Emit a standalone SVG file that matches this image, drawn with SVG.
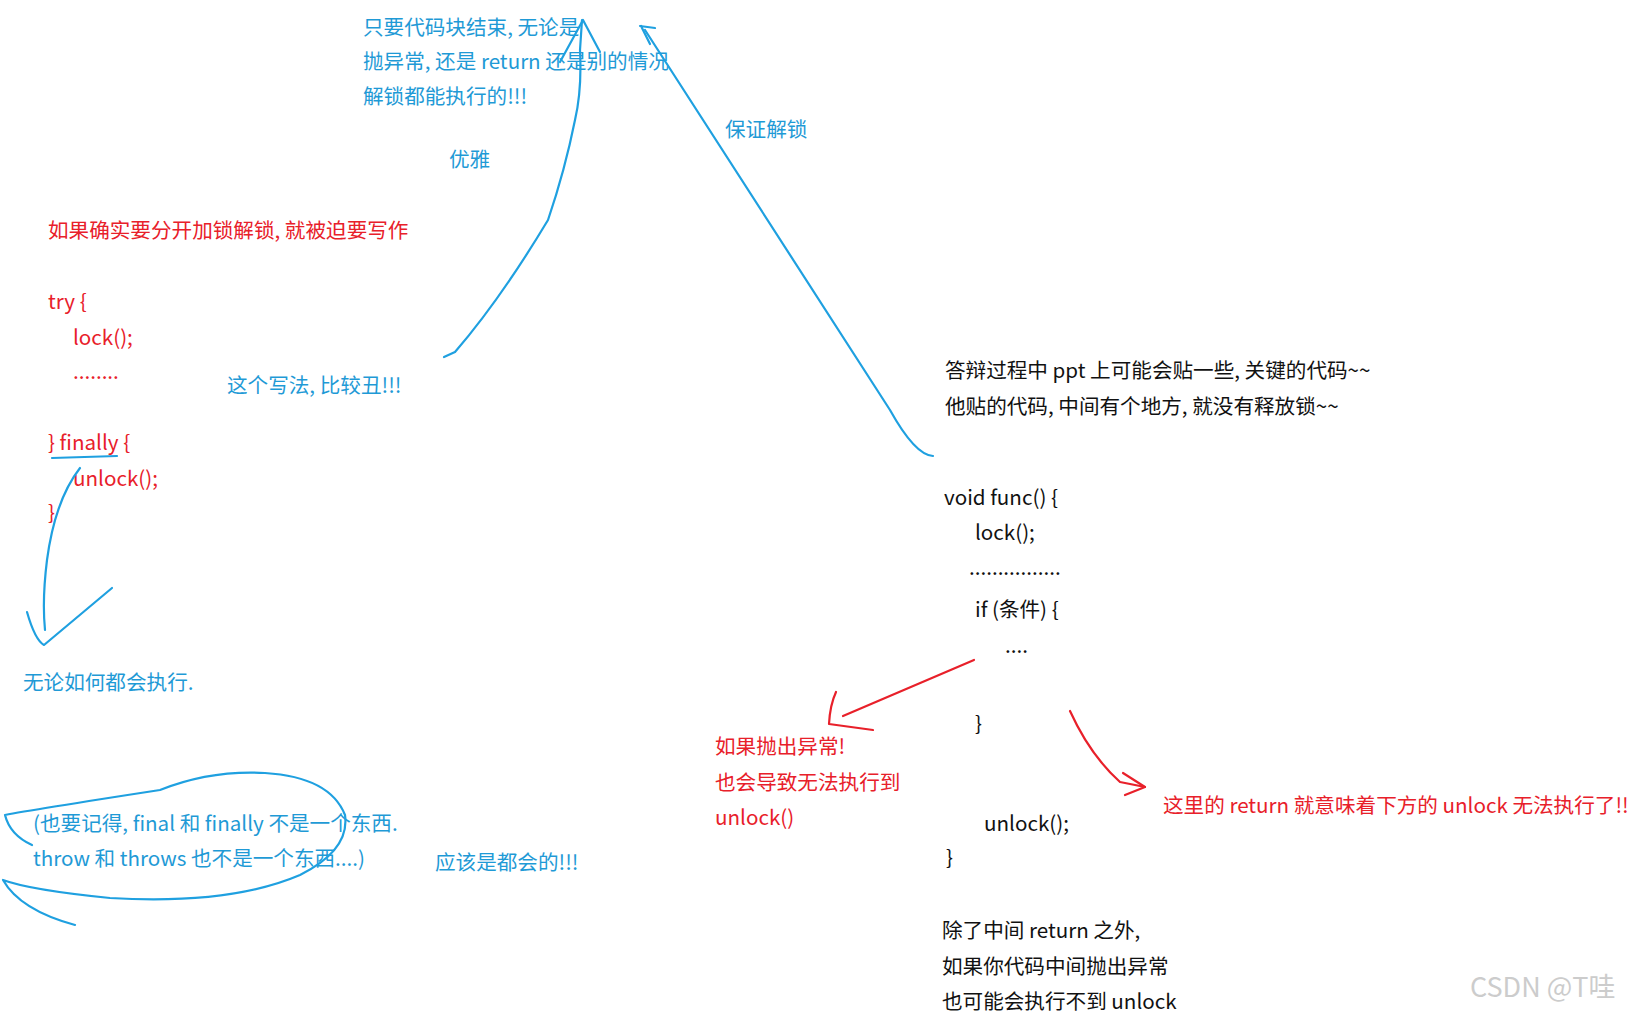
<svg xmlns="http://www.w3.org/2000/svg" width="1638" height="1015" viewBox="0 0 1638 1015">
<style>
text{font-family:"Noto Sans CJK SC","Liberation Sans",sans-serif;font-size:20.6px}
.b{fill:#1f9ad6}.r{fill:#e8202a}.k{fill:#111}
.sb{fill:none;stroke:#1fa0e0;stroke-width:2.2;stroke-linecap:round;stroke-linejoin:round}
.sr{fill:none;stroke:#e8202a;stroke-width:2.2;stroke-linecap:round;stroke-linejoin:round}
</style>
<rect width="1638" height="1015" fill="#fff"/>
<g id="top-note"><text class="b" x="363" y="35">只要代码块结束, 无论是</text><text class="b" x="363" y="69">抛异常, 还是 return 还是别的情况</text><text class="b" x="363" y="104">解锁都能执行的!!!</text></g>
<g id="youya"><text class="b" x="449" y="167">优雅</text></g>
<g id="baozheng"><text class="b" x="725" y="137">保证解锁</text></g>
<g id="left-code"><text class="r" x="48" y="238">如果确实要分开加锁解锁, 就被迫要写作</text>
<text class="r" x="48" y="309">try {</text><text class="r" x="73" y="345">lock();</text><text class="r" x="73" y="379">........</text>
<text class="r" x="48" y="450">} finally {</text><text class="r" x="73" y="486">unlock();</text><text class="r" x="48" y="520">}</text></g>
<g id="chou"><text class="b" x="227" y="393">这个写法, 比较丑!!!</text></g>
<g id="wulun"><text class="b" x="23" y="690">无论如何都会执行.</text></g>
<g id="final-note"><text class="b" x="33" y="831">(也要记得, final 和 finally 不是一个东西.</text><text class="b" x="33" y="866">throw 和 throws 也不是一个东西....)</text></g>
<g id="yinggai"><text class="b" x="435" y="870">应该是都会的!!!</text></g>
<g id="right-note"><text class="k" x="945" y="378">答辩过程中 ppt 上可能会贴一些, 关键的代码~~</text><text class="k" x="945" y="414">他贴的代码, 中间有个地方, 就没有释放锁~~</text></g>
<g id="func"><text class="k" x="944" y="505">void func() {</text><text class="k" x="975" y="540">lock();</text><text class="k" x="969" y="575">................</text>
<text class="k" x="975" y="617">if (条件) {</text><text class="k" x="1005" y="653">....</text><text class="k" x="975" y="731">}</text>
<text class="k" x="984" y="831">unlock();</text><text class="k" x="946" y="865">}</text></g>
<g id="bottom-note"><text class="k" x="942" y="938">除了中间 return 之外,</text><text class="k" x="942" y="974">如果你代码中间抛出异常</text><text class="k" x="942" y="1009">也可能会执行不到 unlock</text></g>
<g id="throw-note"><text class="r" x="715" y="754">如果抛出异常!</text><text class="r" x="715" y="790">也会导致无法执行到</text><text class="r" x="715" y="825">unlock()</text></g>
<g id="return-note"><text class="r" x="1163" y="813">这里的 return 就意味着下方的 unlock 无法执行了!!</text></g>
<g id="watermark"><text x="1470" y="997" style="font-size:27px;fill:#ccc">CSDN @T哇</text></g>
<g id="connectors">
<path class="sb" d="M444 357 L455 352 Q500 300 548 220 Q565 170 575 120 Q582 90 580 50 L582 20"/>
<path class="sb" d="M560 62 L583 20 L600 52"/>
<path class="sb" d="M933 456 Q915 455 890 410 L645 30"/>
<path class="sb" d="M640 26 L655 28 M641 26 L650 44"/>
<path class="sb" d="M52 458 L117 456"/>
<path class="sb" d="M80 468 Q55 500 47 560 Q42 600 45 630"/>
<path class="sb" d="M27 612 Q35 640 44 645 L112 588"/>
<path class="sb" d="M32 845 Q10 835 5 815 Q30 810 160 790 Q210 770 265 773 Q330 777 345 815 Q350 850 300 875 Q230 905 110 898 Q30 890 3 880 Q20 910 75 925"/>
<path class="sr" d="M974 660 L843 716"/>
<path class="sr" d="M836 692 Q830 705 829 724 L873 730"/>
<path class="sr" d="M1070 711 Q1090 755 1120 782 L1145 787"/>
<path class="sr" d="M1123 773 L1145 787 L1125 795"/>
</g>
</svg>
